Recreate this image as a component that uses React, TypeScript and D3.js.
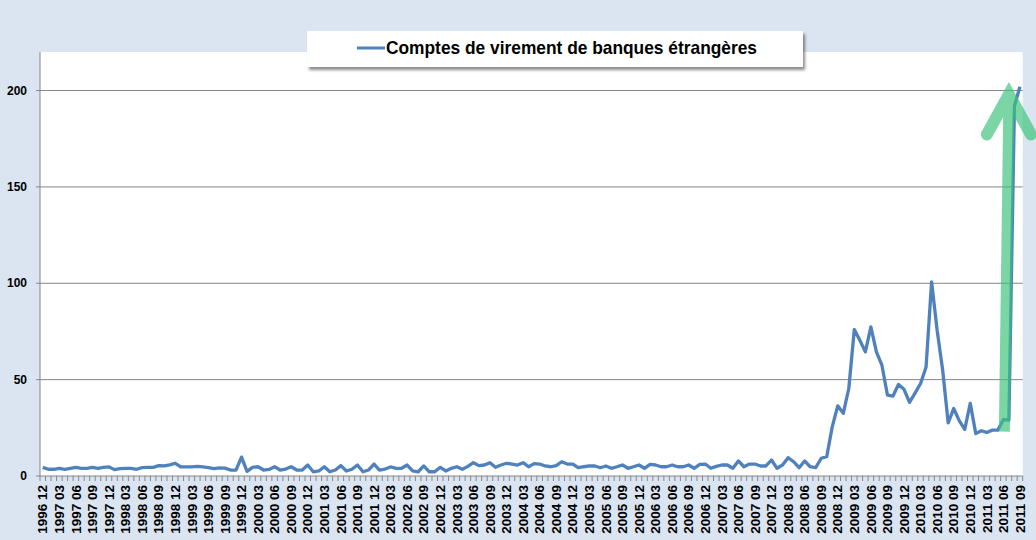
import React, { useEffect, useRef } from "react";
import * as d3 from "d3";

// monthly series, 1996-12 .. 2011-09
const startYear = 1996;
const startMonth = 12;
const values: number[] = [
    4.5,
    3.5, 3.5, 4, 3.5, 4, 4.5, 4, 4, 4.5, 4, 4.5, 4.7,
    3.3, 3.8, 4, 4, 3.5, 4.3, 4.5, 4.5, 5.4, 5.2, 5.8, 6.6,
    4.7, 4.7, 4.7, 5, 4.7, 4.3, 3.8, 4.2, 4.1, 3.1, 3.1, 9.8,
    2.4, 4.5, 4.8, 3.1, 3.4, 4.8, 3.1, 3.6, 4.8, 3.1, 3.1, 5.7,
    2.2, 2.6, 4.8, 2.2, 3.1, 5.4, 2.6, 3.5, 5.7, 2.2, 3.1, 6.2,
    3.1, 3.6, 4.7, 4, 4, 5.7, 2.6, 2.2, 5.2, 2.2, 2.2, 4.5,
    2.6, 4, 4.8, 3.5, 5, 6.9, 5.4, 5.7, 6.9, 4.5, 5.7, 6.6,
    6.2, 5.7, 6.9, 4.8, 6.4, 6.2, 5.2, 4.8, 5.4, 7.4, 6.2, 6.2,
    4.3, 4.8, 5.2, 5.2, 4.3, 5.2, 4, 4.8, 5.7, 4, 4.8, 5.7,
    4, 6, 5.7, 4.8, 4.8, 5.7, 4.8, 4.8, 5.7, 4, 6, 6.2,
    4, 5, 5.7, 5.7, 4, 7.8, 4.8, 6.2, 6.2, 5.2, 5.2, 8.3,
    4, 5.7, 9.5, 7.4, 4.3, 7.8, 4.8, 4.3, 9.2, 10, 25.5, 36.4,
    32.5, 45.4, 76, 70.4, 64.4, 77.4, 64.4, 57.5, 42, 41.5, 47.5, 45,
    38.2, 43, 48, 56.6, 100.7, 75.6, 55, 27.6, 35, 28.7, 24.2, 37.7,
    22, 23.5, 22.6, 23.8, 23.8, 29.3, 29, 192, 202,
];
const categories: string[] = values.map((_, i) => {
    const m = startMonth - 1 + i;
    const year = startYear + Math.floor(m / 12);
    const month = (m % 12) + 1;
    return `${year} ${month < 10 ? "0" + month : month}`;
});
const yTicks = [0, 50, 100, 150, 200];
const seriesName = "Comptes de virement de banques étrangères";
// arrow annotation: from month to month, value range
const arrowFrom = "2011 06";
const arrowTo = "2011 07";
const arrowLow = 23;
const arrowHigh = 198;

const W = 1036;
const H = 540;
const plot = { left: 40, right: 1022.7, top: 52, bottom: 476 };

export default function App() {
    const ref = useRef<SVGSVGElement>(null);

    useEffect(() => {
        const svg = d3.select(ref.current);
        svg.selectAll("*").remove();

        const x = d3.scaleBand<string>().domain(categories).range([plot.left, plot.right]).padding(0);
        const y = d3.scaleLinear().domain([0, 220]).range([plot.bottom, plot.top]);
        const cx = (c: string) => (x(c) as number) + x.bandwidth() / 2;

        const defs = svg.append("defs");
        const f = defs.append("filter").attr("id", "shadow").attr("x", "-5%").attr("y", "-30%").attr("width", "110%").attr("height", "170%");
        f.append("feDropShadow").attr("dx", 2).attr("dy", 3).attr("stdDeviation", 1.6)
            .attr("flood-color", "#000").attr("flood-opacity", 0.45);

        svg.append("rect").attr("width", W).attr("height", H).attr("fill", "#dbe5f1");
        svg.append("rect")
            .attr("x", plot.left).attr("y", plot.top)
            .attr("width", plot.right - plot.left).attr("height", plot.bottom - plot.top)
            .attr("fill", "#fff");

        // gridlines
        svg.append("g").selectAll("line")
            .data(yTicks.filter(t => t > 0))
            .enter().append("line")
            .attr("x1", plot.left).attr("x2", plot.right)
            .attr("y1", d => y(d)).attr("y2", d => y(d))
            .attr("stroke", "#868686").attr("stroke-width", 1);

        // y axis
        const ya = svg.append("g");
        ya.append("line").attr("x1", plot.left).attr("x2", plot.left)
            .attr("y1", plot.top).attr("y2", plot.bottom).attr("stroke", "#868686");
        ya.selectAll("line.tick").data(yTicks).enter().append("line").attr("class", "tick")
            .attr("x1", plot.left - 4).attr("x2", plot.left)
            .attr("y1", d => y(d)).attr("y2", d => y(d)).attr("stroke", "#868686");
        ya.selectAll("text").data(yTicks).enter().append("text")
            .attr("x", 27).attr("y", d => y(d)).attr("dy", "0.35em")
            .attr("text-anchor", "end")
            .attr("font-family", "Liberation Sans, Arial, sans-serif")
            .attr("font-weight", "bold").attr("font-size", 12)
            .text(d => d);

        // x axis
        const xa = svg.append("g");
        xa.append("line").attr("x1", plot.left).attr("x2", plot.right)
            .attr("y1", plot.bottom).attr("y2", plot.bottom).attr("stroke", "#868686");
        const bounds = categories.map(c => x(c) as number).concat([plot.right]);
        xa.selectAll("line.tick").data(bounds).enter().append("line").attr("class", "tick")
            .attr("x1", d => d).attr("x2", d => d)
            .attr("y1", plot.bottom).attr("y2", plot.bottom + 5).attr("stroke", "#868686");
        xa.selectAll("text").data(categories.filter((_, i) => i % 3 === 0)).enter().append("text")
            .attr("transform", d => `translate(${cx(d)},485) rotate(-90)`)
            .attr("dy", "0.35em")
            .attr("text-anchor", "end")
            .attr("font-family", "Liberation Sans, Arial, sans-serif")
            .attr("font-weight", "bold").attr("font-size", 13.5)
            .text(d => d);

        // series line
        const line = d3.line<number>()
            .x((_, i) => cx(categories[i]))
            .y(d => y(d));
        svg.append("path")
            .attr("d", line(values))
            .attr("fill", "none")
            .attr("stroke", "#4f81bd")
            .attr("stroke-width", 3.3)
            .attr("stroke-linejoin", "round");

        // green arrow
        const bx = cx(arrowFrom) + 1;
        const by = y(arrowLow);
        const tx = cx(arrowTo);
        const ty = y(arrowHigh);
        const arrow = svg.append("g").attr("opacity", 0.68);
        arrow.append("line")
            .attr("x1", bx).attr("y1", by).attr("x2", tx).attr("y2", ty + 4)
            .attr("stroke", "#3cc47a").attr("stroke-width", 11);
        arrow.append("path")
            .attr("d", `M${tx - 22},${ty + 40} L${tx},${ty} L${tx + 22},${ty + 40}`)
            .attr("fill", "none")
            .attr("stroke", "#3cc47a").attr("stroke-width", 12)
            .attr("stroke-linecap", "round").attr("stroke-linejoin", "miter");

        // legend
        const lg = svg.append("g");
        lg.append("rect").attr("x", 307).attr("y", 31).attr("width", 496).attr("height", 36)
            .attr("fill", "#fff").attr("filter", "url(#shadow)");
        lg.append("line").attr("x1", 357).attr("x2", 385).attr("y1", 48).attr("y2", 48)
            .attr("stroke", "#4f81bd").attr("stroke-width", 3);
        lg.append("text").attr("x", 386).attr("y", 48).attr("dy", "0.35em")
            .attr("font-family", "Liberation Sans Narrow, Arial Narrow, sans-serif")
            .attr("font-weight", "bold").attr("font-size", 18.5)
            .attr("textLength", 371).attr("lengthAdjust", "spacingAndGlyphs")
            .attr("fill", "#000")
            .text(seriesName);
    }, []);

    return <svg ref={ref} width={W} height={H} style={{ position: "absolute", left: 0, top: 0 }} />;
}
